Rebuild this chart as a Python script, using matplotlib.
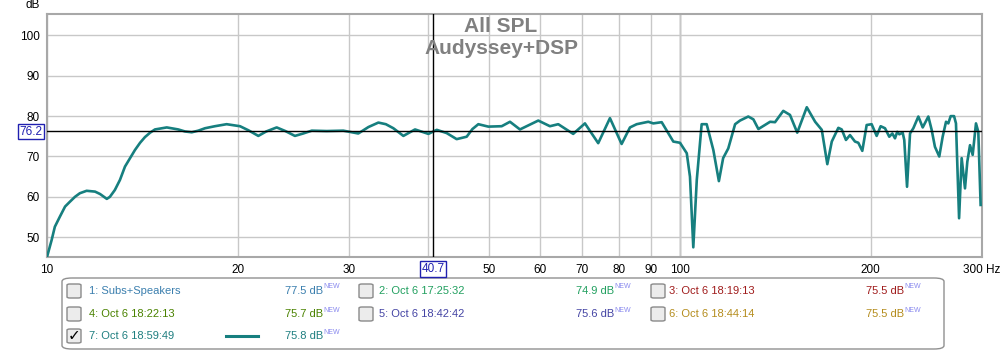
import numpy as np
import matplotlib
matplotlib.use("Agg")
import matplotlib.pyplot as plt
from matplotlib.patches import FancyBboxPatch

plt.rcParams['font.family'] = ['Liberation Sans', 'DejaVu Sans']

# ---- data ----
freq_hz = [10.0, 10.17, 10.29, 10.48, 10.68, 10.87, 11.07, 11.27, 11.55, 11.91, 12.13,
           12.43, 12.57, 12.80, 13.04, 13.28, 13.53, 13.77, 14.03, 14.28, 14.55, 14.81,
           15.46, 16.12, 16.52, 16.93, 17.34, 17.77, 18.42, 19.22, 20.18, 20.8, 21.57,
           22.2, 23.06, 23.8, 24.64, 25.4, 26.20, 27.66, 29.38, 31.03, 32.2, 33.38,
           34.3, 35.25, 36.56, 38.14, 40.04, 41.28, 42.8, 44.38, 46.03, 47.0, 48.02,
           49.80, 52.28, 53.88, 55.87, 59.72, 62.31, 64.22, 67.81, 70.77, 74.27, 77.51,
           80.87, 83.37, 85.43, 89.10, 90.75, 93.56, 97.60, 100.0, 102.5, 103.7, 104.96,
           106.3, 108.2, 110.2, 112.9, 115.2, 117.0, 119.2, 122.2, 124.4, 128.2, 130.6,
           133.0, 138.8, 141.3, 145.6, 149.2, 153.2, 158.6, 163.5, 167.5, 170.9, 173.7,
           177.9, 180.1, 182.9, 185.6, 189.0, 191.3, 194.1, 197.2, 200.8, 204.5, 207.5,
           210.8, 214.1, 216.5, 218.6, 220.4, 222.1, 224.8, 226.1, 228.4, 230.9, 233.7,
           238.0, 241.8, 246.8, 249.8, 252.8, 256.8, 260.0, 263.2, 265.4, 267.7, 271.0,
           272.9, 276.0, 278.6, 282.0, 284.4, 287.2, 290.0, 293.5, 296.0, 298.5]
spl_db = [45.1, 49.3, 52.6, 55.1, 57.6, 58.8, 60.0, 60.9, 61.5, 61.3, 60.7,
          59.5, 60.0, 61.7, 64.2, 67.5, 69.6, 71.6, 73.4, 74.8, 75.9, 76.7,
          77.2, 76.7, 76.2, 76.0, 76.4, 77.0, 77.5, 78.0, 77.5, 76.5, 75.1,
          76.2, 77.2, 76.3, 75.1, 75.7, 76.4, 76.3, 76.4, 75.7, 77.3, 78.4,
          78.0, 77.0, 75.1, 76.7, 75.6, 76.6, 75.8, 74.3, 74.9, 76.8, 78.0,
          77.4, 77.5, 78.6, 76.7, 78.9, 77.5, 78.0, 75.6, 78.2, 73.3, 79.5,
          73.1, 77.2, 78.0, 78.6, 78.2, 78.5, 73.7, 73.4, 70.8, 65.0, 47.5,
          64.2, 78.0, 78.0, 71.6, 63.9, 69.6, 72.0, 78.0, 78.9, 79.9, 79.2,
          76.8, 78.6, 78.5, 81.3, 80.3, 75.9, 82.2, 78.6, 76.6, 68.1, 73.7,
          77.1, 76.7, 74.1, 75.3, 73.7, 73.4, 71.4, 77.8, 78.0, 75.1, 77.5,
          77.0, 74.9, 75.7, 74.5, 76.1, 75.5, 75.9, 74.1, 62.5, 75.7, 77.0,
          79.9, 77.2, 79.9, 76.6, 72.4, 70.0, 74.9, 78.6, 78.2, 80.0, 80.0,
          78.2, 54.7, 69.6, 62.1, 68.7, 72.8, 70.4, 78.2, 76.1, 58.0]

cursor_db = 76.2
cursor_hz = 40.7

y_ticks = [50, 60, 70, 80, 90, 100]
x_ticks = [10, 20, 30, 40, 50, 60, 70, 80, 90, 100, 200, 300]
x_tick_labels = ['10', '20', '30', '', '50', '60', '70', '80', '90', '100', '200', '300 Hz']

legend_names = ['1: Subs+Speakers', '2: Oct 6 17:25:32', '3: Oct 6 18:19:13',
                '4: Oct 6 18:22:13', '5: Oct 6 18:42:42', '6: Oct 6 18:44:14',
                '7: Oct 6 18:59:49']
legend_values = ['77.5 dB', '74.9 dB', '75.5 dB', '75.7 dB', '75.6 dB', '75.5 dB', '75.8 dB']
legend_colors = ['#3b7fae', '#22a060', '#a01c1c', '#4a8200', '#4444a4', '#b48c1c', '#1f7f80']
legend_checked = [False, False, False, False, False, False, True]

W, H = 1005, 351
fig = plt.figure(figsize=(W / 100, H / 100), dpi=100)


def fx(x):
    return x / W


def fy(y):
    return 1 - y / H


ax = fig.add_axes([fx(47), fy(257), fx(982) - fx(47), fy(14) - fy(257)])
ax.set_xscale('log')
ax.set_xlim(10, 300)
ax.set_ylim(45.1, 105.3)

line_col = '#167f7f'
ax.plot(freq_hz, spl_db, color=line_col, lw=1.9, solid_joinstyle='round', zorder=3)

ax.set_yticks(y_ticks)
ax.set_xticks(x_ticks)
ax.set_xticklabels(x_tick_labels)
ax.xaxis.set_minor_locator(matplotlib.ticker.NullLocator())
ax.tick_params(length=0, labelsize=8.5, colors='black', pad=5)
ax.grid(True, color='#c8c8c8', lw=1)
ax.axvline(100, color='#8c8c8c', lw=1, zorder=1)
for s in ax.spines.values():
    s.set_color('#a8a8a8')
    s.set_linewidth(1.5)

# cursors
ax.axhline(cursor_db, color='black', lw=1, zorder=4)
ax.axvline(cursor_hz, color='black', lw=1, zorder=4)

fig.text(fx(501), fy(27), 'All SPL', ha='center', va='center',
         fontsize=15, fontweight='bold', color='#808080')
fig.text(fx(501), fy(49), 'Audyssey+DSP', ha='center', va='center',
         fontsize=15, fontweight='bold', color='#808080')

fig.text(fx(33), fy(5), 'dB', ha='center', va='center', fontsize=8.5)

box_style = dict(boxstyle='square,pad=0.15', fc='white', ec='#2020b0', lw=1)
fig.text(fx(31), fy(131.5), '76.2', ha='center', va='center', fontsize=8.5,
         color='#2020b0', bbox=box_style)
fig.text(fx(433), fy(269), '40.7', ha='center', va='center', fontsize=8.5,
         color='#2020b0', bbox=box_style)

# legend panel
fig.patches.append(FancyBboxPatch((fx(62), fy(349)), fx(944) - fx(62), fy(278) - fy(349),
                                  boxstyle='round,pad=0,rounding_size=0.01',
                                  transform=fig.transFigure, fc='white', ec='#909090', lw=1))
col_box = [67, 359, 651]
col_name = [89, 379, 669]
col_val = [285, 576, 866]
row_y = [291, 314, 336]
for i, name in enumerate(legend_names):
    r, c = divmod(i, 3)
    y = row_y[r]
    fig.patches.append(FancyBboxPatch((fx(col_box[c]), fy(y + 7)), fx(14), 14 / H,
                                      boxstyle='round,pad=0,rounding_size=0.003',
                                      transform=fig.transFigure, fc='#ececec',
                                      ec='#8a8a8a', lw=1))
    if legend_checked[i]:
        fig.text(fx(col_box[c] + 7), fy(y), '\u2713', ha='center', va='center',
                 fontsize=11, color='black', family='DejaVu Sans')
        fig.add_artist(plt.Line2D([fx(226), fx(258)], [fy(y), fy(y)], color=line_col,
                                  lw=2.2, transform=fig.transFigure))
    fig.text(fx(col_name[c]), fy(y), name, ha='left', va='center', fontsize=8,
             color=legend_colors[i])
    fig.text(fx(col_val[c]), fy(y), legend_values[i], ha='left', va='center',
             fontsize=8, color=legend_colors[i])
    fig.text(fx(col_val[c] + 38), fy(y - 4), 'NEW', ha='left', va='center',
             fontsize=5, color='#8888ee')

fig.savefig('out.png', dpi=100)
